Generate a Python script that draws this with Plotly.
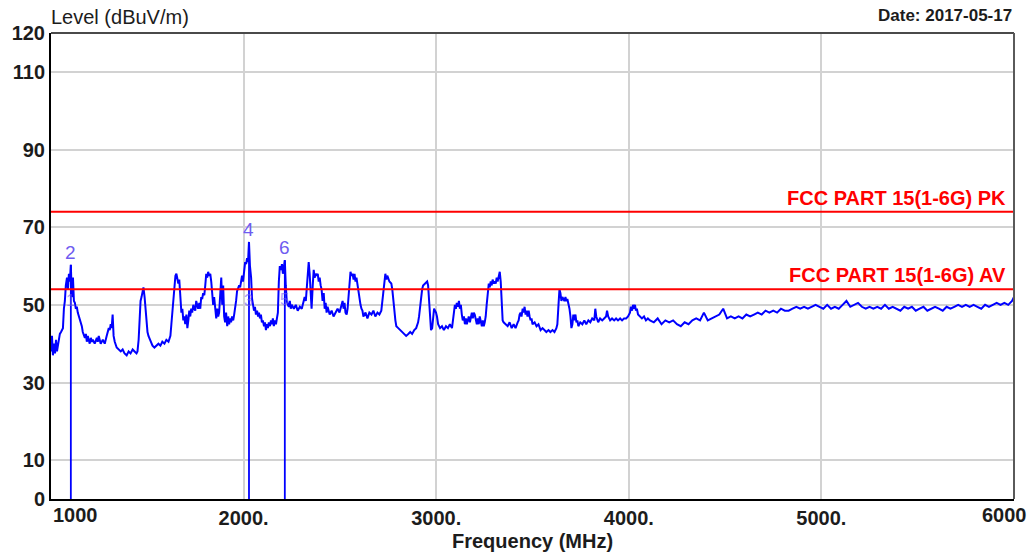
import plotly.graph_objects as go

# ---------------- data ----------------
freq_mhz = [
    1000, 1005, 1010, 1015, 1021, 1026, 1031, 1036, 1041, 1046,
    1052, 1057, 1062, 1067, 1072, 1077, 1083, 1088, 1093, 1098,
    1103, 1108, 1114, 1119, 1124, 1129, 1134, 1139, 1145, 1150,
    1155, 1160, 1165, 1170, 1176, 1181, 1186, 1191, 1196, 1201,
    1207, 1212, 1217, 1227, 1238, 1243, 1248, 1258, 1269, 1279,
    1289, 1294, 1300, 1305, 1310, 1315, 1320, 1325, 1331, 1341,
    1351, 1362, 1372, 1382, 1393, 1403, 1413, 1424, 1434, 1444,
    1449, 1455, 1460, 1465, 1470, 1475, 1480, 1486, 1491, 1496,
    1501, 1506, 1517, 1527, 1537, 1548, 1558, 1568, 1578, 1589,
    1599, 1610, 1620, 1625, 1630, 1635, 1640, 1646, 1651, 1656,
    1661, 1666, 1671, 1677, 1682, 1687, 1692, 1697, 1703, 1708,
    1713, 1718, 1723, 1728, 1733, 1739, 1744, 1749, 1754, 1759,
    1764, 1770, 1775, 1780, 1785, 1790, 1796, 1801, 1806, 1811,
    1816, 1821, 1827, 1832, 1837,
    1842, 1847, 1853, 1858, 1863, 1868, 1873, 1878, 1884, 1889,
    1894, 1899, 1904, 1909, 1915, 1920, 1925, 1930, 1935, 1940,
    1946, 1951, 1956, 1961, 1966, 1971, 1977, 1982, 1987, 1992,
    1997, 2002, 2008, 2013, 2018, 2023, 2028, 2033, 2039, 2044,
    2049, 2054, 2059, 2064, 2070, 2075, 2080, 2085, 2090, 2095,
    2100, 2106, 2111, 2116, 2121, 2126, 2131, 2137, 2142, 2147,
    2152, 2157, 2162, 2168, 2173, 2178, 2183, 2188, 2194, 2199,
    2204, 2209, 2214, 2219, 2224, 2230, 2235, 2240, 2245, 2250,
    2261, 2271, 2281, 2292, 2302, 2312, 2317, 2323, 2328, 2333,
    2338, 2343, 2348, 2353, 2359, 2364, 2369, 2374, 2379, 2385,
    2390, 2395, 2400, 2405, 2410, 2416, 2421, 2426, 2431, 2436,
    2447, 2457, 2467, 2478, 2488, 2498, 2509, 2514, 2519, 2524,
    2529, 2535, 2540, 2545, 2550, 2555, 2560, 2566, 2571, 2576,
    2581, 2586, 2592, 2597, 2602, 2607, 2612, 2617, 2622, 2633,
    2643, 2653, 2664, 2674, 2684, 2695, 2705, 2715,
    2725, 2731, 2736, 2741, 2746, 2757, 2767, 2772, 2777, 2782,
    2788, 2793, 2803, 2813, 2824, 2834, 2844, 2855, 2865, 2875,
    2886, 2896, 2906, 2911, 2917, 2922, 2927, 2932, 2943, 2953,
    2958, 2963, 2968, 2973, 2979, 2984, 2989, 2994, 2999, 3004,
    3010, 3020, 3030, 3040, 3051, 3061, 3071, 3082, 3087, 3092,
    3097, 3102, 3107, 3113, 3118, 3123, 3128, 3133, 3138, 3144,
    3149, 3154, 3159, 3164, 3169, 3175, 3180, 3185, 3190, 3195,
    3200, 3206, 3211, 3216, 3221, 3226, 3231, 3237, 3242, 3247,
    3252, 3257, 3262, 3268, 3273, 3278, 3283, 3288, 3293, 3299,
    3304, 3309, 3314, 3319, 3324, 3330, 3335, 3340, 3345, 3350,
    3361, 3371, 3381, 3392, 3402, 3412, 3423, 3428, 3433, 3438,
    3443, 3449, 3454, 3459, 3464, 3469, 3474, 3480, 3485, 3490,
    3495, 3500, 3511, 3521, 3531, 3542, 3552, 3562, 3572, 3583,
    3593, 3604, 3614, 3624, 3629, 3635, 3640, 3645, 3650, 3655,
    3661, 3666, 3671, 3676, 3681, 3686, 3692, 3697, 3702, 3707,
    3712, 3717, 3723, 3728, 3733, 3738, 3748, 3759, 3769, 3779,
    3790, 3800, 3810, 3821, 3826, 3831, 3836, 3841, 3851, 3862,
    3872, 3882, 3887, 3893, 3903, 3913, 3924, 3934, 3944, 3955,
    3965, 3975, 3986, 3996, 4006, 4011, 4017, 4022, 4027, 4032,
    4037, 4042, 4048, 4058, 4068, 4079, 4089, 4099,
    4110, 4130, 4150, 4170, 4190, 4210, 4230, 4250, 4270, 4290,
    4310, 4330, 4350, 4370, 4390, 4410, 4430, 4450, 4470, 4490,
    4510, 4530, 4550, 4570, 4590, 4610, 4630, 4650, 4670, 4690,
    4710, 4730, 4750, 4770, 4790, 4810, 4830, 4850, 4870, 4890,
    4910, 4930, 4950, 4970, 4990, 5010, 5030, 5050, 5070, 5090,
    5110, 5130, 5150, 5170, 5190, 5210, 5230, 5250, 5270, 5290,
    5310, 5330, 5350, 5370, 5390, 5410, 5430, 5450, 5470, 5490,
    5510, 5530, 5550, 5570, 5590, 5610, 5630, 5650, 5670, 5690,
    5710, 5730, 5750, 5770, 5790, 5810, 5830, 5850, 5870, 5890,
    5910, 5930, 5950, 5970, 5990, 6000,
]

level_dbuv = [
    38, 42, 37, 40, 37.5, 41, 38, 40, 41, 42.5,
    43, 43.5, 44, 49, 51, 55, 57, 54, 58, 56,
    60.3, 52, 57, 51, 50.5, 49, 49.5, 48, 47, 46,
    45, 44.5, 43, 42, 41.5, 42.5, 40.5, 42, 41, 40,
    41.5, 40.5, 41, 40, 41.5, 40.5, 42, 40, 41, 40,
    42, 43, 44, 43.5, 45, 44, 47.5, 42, 40.5, 39,
    38.5, 38, 38.5, 37.5, 37, 38, 37.5, 38.5, 38, 37.5,
    38, 41, 46, 51, 52, 53.5, 54.5, 52, 48, 44,
    43, 42, 40.5, 39.5, 39, 39.5, 40, 39.5, 40.5, 40,
    41, 40.5, 42, 45, 48, 53, 55, 57.5, 58, 57,
    55.5, 56.5, 52, 48, 49, 46, 47, 45, 47.5, 44,
    46, 48.5, 47, 49, 48, 50, 49, 48.5, 51, 50,
    49, 50.5, 49, 52, 51.5, 53, 52.5, 55, 58, 57,
    58.5, 57.5, 58, 56, 52,
    50, 52, 48, 46.5, 49, 47, 48, 52, 57, 50,
    55, 47, 45.5, 48, 44.5, 47, 45, 46.5, 45.5, 47,
    46, 47.5, 49, 51, 53.5, 54, 55, 54.5, 56, 57.5,
    56, 59, 61, 60.5, 62, 61, 66.2, 60, 57, 51.5,
    50, 48.5, 49.5, 47.5, 48.5, 47, 48, 46.5, 47.5, 45.5,
    46, 44.5, 45.5, 43.5, 45, 44, 45.5, 44.5, 46, 45,
    46.5, 44.5, 46, 45, 46.5, 48, 56, 60, 59, 60.5,
    58, 60, 61.5, 55, 51, 50, 49.5, 51, 49, 50,
    49, 50, 48.5, 49.5, 49, 51, 52, 51, 55, 59,
    61, 58, 52, 49, 55, 59, 57, 58, 57.5, 58,
    56, 57, 55, 54, 51, 53, 49, 50.5, 48, 49.5,
    47.5, 48.5, 47, 48, 49, 48, 50, 51, 49, 50.5,
    48, 47.5, 49, 52, 56, 58.5, 57.5, 58, 56.5, 58,
    56, 57, 55, 53, 51, 50, 49, 48.5, 47, 48,
    46.5, 48, 47.5, 48.5, 47, 48, 47.5, 48.5,
    53, 57, 58, 56.5, 57.5, 56, 55.5, 54, 52, 49,
    46, 44.5, 44, 43.5, 43, 42.5, 42, 42.5, 43, 42.5,
    43.5, 44, 45.5, 47, 50, 53, 54, 55, 55.5, 56,
    55, 51, 46, 43.5, 44, 47, 49, 48.5, 48, 47,
    45, 44, 44.5, 43.5, 44.5, 44, 45, 44, 46, 48,
    50, 49, 50.5, 49.5, 51, 49, 50, 47.5, 46, 47,
    45, 46.5, 45, 46, 47, 45.5, 47, 48, 46.5, 48,
    47.5, 46, 45, 46.5, 45, 47, 45.5, 44.5, 46, 44.5,
    45.5, 47, 50, 54, 55.5, 54.5, 56, 55, 56.5, 55.5,
    56, 55.5, 57, 56, 57.5, 58.5, 56, 50, 46, 45.5,
    45, 44.5, 45.5, 44, 45, 44, 45.5, 46, 47.5, 48,
    47, 49, 48, 49.5, 47.5, 48.5, 47, 48.5, 47, 46,
    46.5, 45, 45.5, 44.5, 45, 43.5, 44, 43.5, 43, 43.5,
    43, 43.5, 43, 44, 45, 50, 54, 53, 51, 52,
    51.5, 51, 52, 51, 51.5, 50.5, 49, 47, 44, 45,
    47.5, 46, 47.5, 45.5, 46, 44.5, 45.5, 45, 46, 45,
    46, 45.5, 46.5, 46, 49, 47, 46, 45.5, 46.5, 46,
    46.5, 47, 48.5, 47, 46, 46.5, 46, 46.5, 46, 46.5,
    46, 46.5, 46.5, 47, 48, 49.5, 48.5, 50, 49, 50,
    48.5, 49, 47.5, 47, 46.5, 47, 46, 46.5,
    46, 45.5, 46.5, 45, 46, 45.5, 46, 45, 44.5, 45.5,
    45, 46, 46.5, 46, 48, 46, 46.5, 47, 47.5, 49,
    46.5, 47, 46.5, 47, 46.5, 47.5, 47, 47.5, 48, 47.5,
    48.5, 48, 48.5, 48, 49, 48.5, 48.5, 49, 49.5, 49,
    49.5, 49, 49.5, 50, 49.5, 49, 50, 49, 49.5, 49,
    50, 51, 49.5, 50, 50.5, 49.5, 49, 49.5, 49, 49.5,
    49, 50, 49, 49.5, 49, 48.5, 49.5, 49, 49.5, 48.5,
    49, 49.5, 48.5, 49, 49.5, 49, 48.5, 49.5, 49, 49.5,
    50, 49.5, 50, 49.5, 50, 49.5, 49, 50, 49.5, 50,
    50.5, 50, 50.5, 50, 51, 52,
]

# peak markers (with stems) and average markers
peak_marker_ids = ["2", "4", "6"]
peak_marker_freq = [1103, 2028, 2214]
peak_marker_level = [60.3, 66.2, 61.5]

avg_marker_ids = ["1", "3", "5"]
avg_marker_freq = [1103, 2028, 2214]
avg_marker_level = [51.0, 51.0, 51.5]

limit_names = ["FCC PART 15(1-6G) PK", "FCC PART 15(1-6G) AV"]
limit_values = [74, 54]

x_range = [1000, 6000]
x_tickvals = [2000, 3000, 4000, 5000]
x_ticktext = ["2000.", "3000.", "4000.", "5000."]
x_edge_labels = ["1000", "6000"]
y_tickvals = [0, 10, 30, 50, 70, 90, 110, 120]
y_ticktext = ["0", "10", "30", "50", "70", "90", "110", "120"]

assert len(freq_mhz) == len(level_dbuv)

# ---------------- figure ----------------
FONT = "Liberation Sans, Arial, sans-serif"
TXT = "#1c1c1c"
BLUE = "#0000ff"
RED = "#ff0000"
MARK = "#6f5cf0"


def b(s):
    return "<b>%s</b>" % s


fig = go.Figure()

fig.add_trace(go.Scatter(
    x=freq_mhz, y=level_dbuv, mode="lines",
    line=dict(color=BLUE, width=2), hoverinfo="skip", showlegend=False))

for f, lv in zip(peak_marker_freq, peak_marker_level):
    fig.add_trace(go.Scatter(
        x=[f, f], y=[0, lv], mode="lines",
        line=dict(color=BLUE, width=1.8), hoverinfo="skip", showlegend=False))

for name, val in zip(limit_names, limit_values):
    fig.add_trace(go.Scatter(
        x=x_range, y=[val, val], mode="lines",
        line=dict(color=RED, width=2), hoverinfo="skip", showlegend=False))
    fig.add_annotation(
        x=x_range[1], y=val, xref="x", yref="y", text=b(name),
        showarrow=False, xanchor="right", yanchor="bottom", xshift=-6, yshift=1,
        font=dict(family=FONT, size=20, color=RED))

for mid, f, lv in zip(peak_marker_ids, peak_marker_freq, peak_marker_level):
    fig.add_annotation(
        x=f, y=lv, xref="x", yref="y", text=mid, showarrow=False,
        xanchor="center", yanchor="bottom", yshift=0,
        font=dict(family=FONT, size=19, color=MARK))

for mid, f, lv in zip(avg_marker_ids, avg_marker_freq, avg_marker_level):
    fig.add_annotation(
        x=f, y=lv, xref="x", yref="y", text=mid, showarrow=False,
        xanchor="center", yanchor="middle",
        font=dict(family=FONT, size=16, color=MARK), opacity=0.6)

# edge tick labels on the x axis
fig.add_annotation(x=0, y=-0.034, xref="paper", yref="paper", text=b(x_edge_labels[0]),
                   showarrow=False, xanchor="left", yanchor="middle",
                   font=dict(family=FONT, size=20, color=TXT))
fig.add_annotation(x=0.9897, y=-0.034, xref="paper", yref="paper", text=b(x_edge_labels[1]),
                   showarrow=False, xanchor="center", yanchor="middle",
                   font=dict(family=FONT, size=20, color=TXT))

# titles
fig.add_annotation(x=-0.002, y=1.034, xref="paper", yref="paper", text="Level (dBuV/m)",
                   showarrow=False, xanchor="left", yanchor="middle",
                   font=dict(family=FONT, size=20, color=TXT))
fig.add_annotation(x=1.0, y=1.038, xref="paper", yref="paper", text=b("Date: 2017-05-17"),
                   showarrow=False, xanchor="right", yanchor="middle",
                   font=dict(family=FONT, size=17, color=TXT))
fig.add_annotation(x=0.5, y=-0.09, xref="paper", yref="paper", text=b("Frequency (MHz)"),
                   showarrow=False, xanchor="center", yanchor="middle",
                   font=dict(family=FONT, size=20, color=TXT))

# top and right frame
fig.add_shape(type="line", xref="paper", yref="paper", x0=0, x1=1, y0=1, y1=1,
              line=dict(color="#4a4a4a", width=2), layer="above")
fig.add_shape(type="line", xref="paper", yref="paper", x0=1, x1=1, y0=0, y1=1,
              line=dict(color="#5a5a5a", width=2), layer="above")

fig.update_layout(
    width=1035, height=555,
    margin=dict(l=46, r=21, t=33, b=56),
    paper_bgcolor="white", plot_bgcolor="white",
    showlegend=False,
    font=dict(family=FONT, size=20, color=TXT),
    xaxis=dict(
        range=x_range, tickvals=x_tickvals, ticktext=[b(t) for t in x_ticktext],
        showgrid=True, gridcolor="#d2d2d2", gridwidth=2, zeroline=False,
        showline=True, linecolor="#000000", linewidth=2, ticks="",
        tickfont=dict(family=FONT, size=20, color=TXT), fixedrange=True),
    yaxis=dict(
        range=[0, 120], tickvals=y_tickvals, ticktext=[b(t) for t in y_ticktext],
        showgrid=True, gridcolor="#d2d2d2", gridwidth=2, zeroline=False,
        showline=True, linecolor="#000000", linewidth=2, ticks="",
        tickfont=dict(family=FONT, size=20, color=TXT), fixedrange=True),
)

fig.write_html(
    "out.html",
    config={"displayModeBar": False},
    post_script="document.body.style.margin='0';document.body.style.padding='0';"
                "document.body.style.overflow='hidden';")
